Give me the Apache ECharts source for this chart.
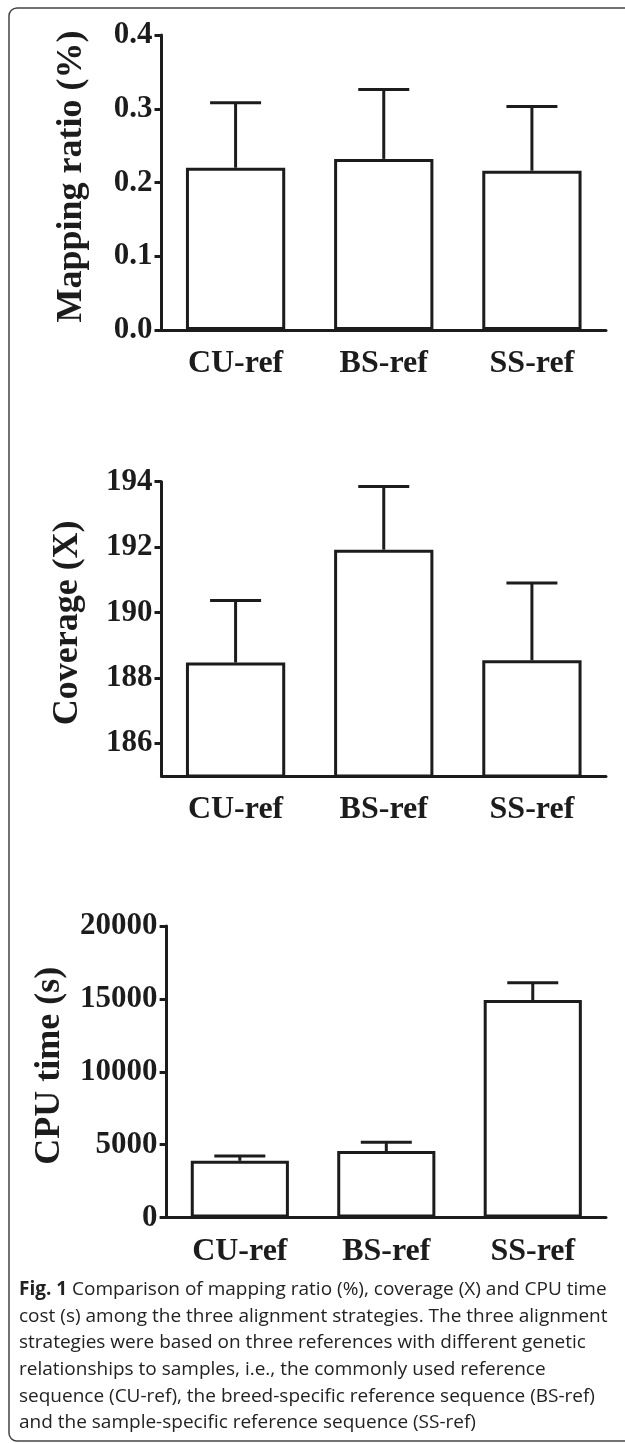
<!DOCTYPE html>
<html>
<head>
<meta charset="utf-8">
<script src="https://cdn.jsdelivr.net/npm/echarts@6/dist/echarts.min.js"></script>
<style>
html,body{margin:0;padding:0;background:#fff;}
#chart{width:625px;height:1443px;}
</style>
</head>
<body>
<div id="chart"></div>
<script>
// ---- data ----
const categories = ['CU-ref', 'BS-ref', 'SS-ref'];

const mappingMean = [0.220, 0.232, 0.216];
const mappingErr  = [0.088, 0.094, 0.087];
const mappingTicks = [0, 0.1, 0.2, 0.3, 0.4];

const coverageMean = [188.47, 191.92, 188.54];
const coverageErr  = [1.90, 1.93, 2.36];
const coverageTicks = [186, 188, 190, 192, 194];

const cpuMean = [3890, 4560, 14920];
const cpuErr  = [330, 600, 1180];
const cpuTicks = [0, 5000, 10000, 15000, 20000];

const yTitles = ['Mapping ratio (%)', 'Coverage (X)', 'CPU time (s)'];

const captionLines = [
  '{b|Fig. 1} Comparison of mapping ratio (%), coverage (X) and CPU time',
  'cost (s) among the three alignment strategies. The three alignment',
  'strategies were based on three references with different genetic',
  'relationships to samples, i.e., the commonly used reference',
  'sequence (CU-ref), the breed-specific reference sequence (BS-ref)',
  'and the sample-specific reference sequence (SS-ref)'
];

// ---- chart ----
const INK = '#1c1c1c';
const SERIF = '"Liberation Serif", "Times New Roman", serif';
const SANS = '"Open Sans", "Noto Sans", sans-serif';
const chart = echarts.init(document.getElementById('chart'), null, {renderer: 'canvas'});

const grids = [
  {left: 161.5, right: 19, top: 35, height: 295},
  {left: 161.5, right: 19, top: 481.7, height: 294.3},
  {left: 166.6, right: 19, top: 926, height: 291.5}
];
const yRanges = [
  {min: 0, max: 0.4, ticks: mappingTicks, gap: 72},
  {min: 185, max: 194, ticks: coverageTicks, gap: 76},
  {min: 0, max: 20000, ticks: cpuTicks, gap: 99}
];
const means = [mappingMean, coverageMean, cpuMean];
const errs = [mappingErr, coverageErr, cpuErr];

function errRender(params, api) {
  const x = api.value(0), lo = api.value(1), hi = api.value(2);
  const p1 = api.coord([x, lo]);
  const p2 = api.coord([x, hi]);
  const half = 25.5;
  return {
    type: 'group',
    children: [
      {type: 'line', shape: {x1: p1[0], y1: p1[1], x2: p2[0], y2: p2[1]},
       style: {stroke: INK, lineWidth: 3}},
      {type: 'line', shape: {x1: p2[0] - half, y1: p2[1], x2: p2[0] + half, y2: p2[1]},
       style: {stroke: INK, lineWidth: 3}}
    ]
  };
}

const xAxes = [], yAxes = [], series = [];
for (let i = 0; i < 3; i++) {
  xAxes.push({
    type: 'category', gridIndex: i, data: categories,
    axisLine: {lineStyle: {color: INK, width: 3}},
    axisTick: {alignWithLabel: true, length: 9, lineStyle: {color: INK, width: 3}},
    axisLabel: {color: INK, fontFamily: SERIF, fontWeight: 'bold', fontSize: 32, margin: 18},
    splitLine: {show: false}
  });
  const r = yRanges[i];
  yAxes.push({
    type: 'value', gridIndex: i, min: r.min, max: r.max,
    name: yTitles[i], nameLocation: 'middle', nameGap: r.gap, nameRotate: 90,
    nameTextStyle: {color: INK, fontFamily: SERIF, fontWeight: 'bold', fontSize: 36,
                    padding: [0, 0, 0, 12]},
    axisLine: {show: true, lineStyle: {color: INK, width: 3}},
    axisTick: {show: true, length: 7, customValues: r.ticks, lineStyle: {color: INK, width: 3}},
    axisLabel: {color: INK, fontFamily: SERIF, fontWeight: 'bold', fontSize: 31, margin: 9,
                customValues: r.ticks,
                formatter: (v) => i === 0 ? v.toFixed(1) : String(v)},
    splitLine: {show: false}
  });
  series.push({
    type: 'bar', xAxisIndex: i, yAxisIndex: i,
    data: means[i], barWidth: '67%',
    itemStyle: {color: '#fff', borderColor: INK, borderWidth: 3},
    silent: true, clip: true, z: 2
  });
  series.push({
    type: 'custom', xAxisIndex: i, yAxisIndex: i,
    data: means[i].map((m, k) => [k, m, m + errs[i][k]]),
    renderItem: errRender, silent: true, z: 3
  });
}

const captionGraphics = captionLines.map((t, k) => ({
  type: 'text', left: 19, top: 1280 + k * 26.7, silent: true,
  style: {
    text: t, fill: '#222', font: '19px ' + SANS,
    rich: {b: {fontWeight: 'bold', fontSize: 19, fontFamily: SANS, fill: '#222'}}
  }
}));

chart.setOption({
  animation: false,
  backgroundColor: '#fff',
  grid: grids.map(g => Object.assign({containLabel: false, outerBoundsMode: 'none'}, g)),
  xAxis: xAxes,
  yAxis: yAxes,
  series: series,
  graphic: [
    {type: 'rect', silent: true, z: -1,
     shape: {x: 9, y: 8, width: 640, height: 1433, r: 8},
     style: {fill: 'none', stroke: '#444', lineWidth: 1.5}}
  ].concat(captionGraphics)
});
</script>
</body>
</html>
